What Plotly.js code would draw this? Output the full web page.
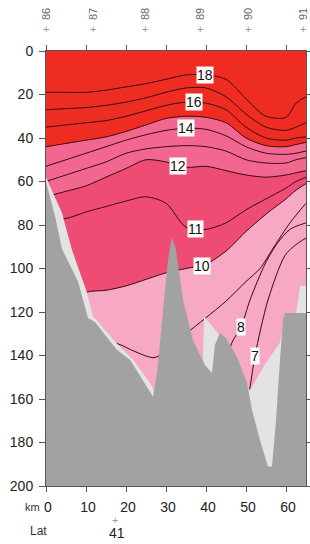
<!DOCTYPE html>
<html>
<head>
<meta charset="utf-8">
<script src="https://cdn.plot.ly/plotly-3.0.1.min.js"></script>
<style>html,body{margin:0;padding:0;background:#fff;}#chart{width:310px;height:544px;}</style>
</head>
<body>
<div id="chart"></div>
<script>
// ---- Data (distance in km, depth in m) ----
const isoKm = [0, 5, 10, 15, 20, 25, 30, 35, 40, 45, 50, 55, 60, 62.5, 65];
const iso18 = [19, 19, 19, 18, 16.5, 15, 13, 11, 11, 13, 22, 30, 30.5, 24, 21];
const iso17 = [27, 26.5, 26, 25, 23.5, 21.5, 19, 17, 17, 21, 29, 35, 36.5, 35, 33];
const iso16 = [35, 34, 33, 32, 30, 27.5, 25, 23.5, 24, 27, 35, 40, 41, 40, 39.5];
const iso15 = [44, 42.5, 41, 39.5, 37, 34, 31, 30, 30.5, 33, 40, 43.5, 44, 43, 42];
const iso14 = [53, 50, 47, 44, 41, 38.5, 36.5, 35.5, 36, 39, 44, 47, 47.5, 47, 46];
const iso13 = [60, 57, 54, 51, 47, 45, 44, 43.5, 44, 46, 50, 51.5, 51.5, 50, 49];
const iso12 = [67, 64.5, 62, 58, 54, 50, 51, 53.5, 53, 55, 57, 58, 57, 56, 55];
const iso11 = [77, 77, 74, 71.5, 69, 67, 70, 81, 82, 79, 73, 68, 63, 60, 58];
const iso10 = [125, 118, 111, 110, 108, 105, 102, 100, 98, 92, 83, 75, 68, 64, 61];
const iso9Km = [10, 15, 18.5, 22, 27, 30, 35, 39.75, 45, 50, 53.5, 57, 61, 65];
const iso9   = [133, 133, 135, 138, 141, 138, 130, 123, 115, 106, 100, 90, 79, 70];
const iso8Km = [40, 44, 46.5, 48.75, 51, 54.75, 58, 61, 65];
const iso8   = [165, 150, 134, 127, 114.5, 98, 88, 82, 79];
const iso7Km = [47, 49, 51, 52.25, 55.5, 59.75, 62.5, 65];
const iso7   = [185, 170, 154.5, 140, 114.5, 94, 89, 86];

// deepest sampled water (below it: no data)
const dataEdgeKm    = [0, 4, 6.5, 10.25, 11.75, 18, 21.75, 26, 27.25, 28, 38.5, 39.5, 43.5, 45, 47.75, 50.25, 51, 54.75, 58.5, 59.5, 62.5, 63.5, 65];
const dataEdgeDepth = [58, 74.5, 91.5, 111, 122, 135, 142, 152.6, 157, 200, 200, 122, 131, 134, 143, 154, 156, 144, 134, 124, 121, 108, 108];

// bottom topography
const topoKm    = [0, 2.25, 4, 8, 10.5, 12.25, 17.75, 21, 25.25, 26.75, 27.75, 29.25, 30.5, 31.5, 32.5, 34.25, 36.75, 39.75, 41.5, 42.25, 43.5, 45, 47.75, 50.25, 51.5, 53.5, 55.5, 56.5, 57.5, 58.5, 59.25, 59.75, 65];
const topoDepth = [60, 76, 91, 106, 122.8, 124.6, 137.5, 142, 154.5, 159, 148, 119, 96, 85.5, 91.5, 114.5, 133, 144.4, 148, 135, 129.7, 132, 140.7, 152.6, 165, 179, 191, 191, 170, 142, 123.7, 120.5, 120.5];

// contour labels
const labelText  = ['18', '16', '14', '12', '11', '10', '8', '7'];
const labelKm    = [39.75, 37, 35, 33, 37.25, 39, 48.75, 52.25];
const labelDepth = [11, 23.5, 35.4, 53, 82, 99, 127, 140];

// stations along the top, latitude along the bottom
const stationNames = ['86', '87', '88', '89', '90', '91'];
const stationKm = [0, 11.75, 24.75, 38.5, 50.5, 64.25];
const latText = ['41'];
const latKm = [17.25];

const xTicks = [0, 10, 20, 30, 40, 50, 60];
const yTicks = [0, 20, 40, 60, 80, 100, 120, 140, 160, 180, 200];

// ---- colours ----
const cRed = '#ef2c22', cPink = '#f2678f', cRose = '#ee4c73', cLight = '#f6a8c4';
const cNoData = '#e3e3e3', cTopo = '#a2a2a2', cLine = '#3a0a12';
const FONT = 'Liberation Sans, Arial, Helvetica, sans-serif';

const traces = [];
function band(y, color) {
  traces.push({x: isoKm, y: y, type: 'scatter', mode: 'lines', fill: 'tozeroy',
    fillcolor: color, line: {width: 0, shape: 'spline', smoothing: 0.8}, hoverinfo: 'skip'});
}
band(iso10, cRose);
band(iso12, cPink);
band(iso15, cRed);

function iso(xs, ys) {
  traces.push({x: xs, y: ys, type: 'scatter', mode: 'lines',
    line: {color: cLine, width: 1, shape: 'spline', smoothing: 0.8}, hoverinfo: 'skip'});
}
[iso18, iso17, iso16, iso15, iso14, iso13, iso12, iso11, iso10].forEach(a => iso(isoKm, a));
iso(iso9Km, iso9);
iso(iso8Km, iso8);
iso(iso7Km, iso7);

traces.push({x: dataEdgeKm.concat([65, 0]), y: dataEdgeDepth.concat([200, 200]),
  type: 'scatter', mode: 'lines', fill: 'toself', fillcolor: cNoData,
  line: {width: 0}, hoverinfo: 'skip'});
traces.push({x: topoKm.concat([65, 0]), y: topoDepth.concat([200, 200]),
  type: 'scatter', mode: 'lines', fill: 'toself', fillcolor: cTopo,
  line: {width: 0}, hoverinfo: 'skip'});

// pixel helpers for paper coords (plot area: x 46..306, y 51..486)
const px = v => (v - 46) / 260;
const py = v => (486 - v) / 435;

const annotations = [];
labelText.forEach((t, i) => annotations.push({x: labelKm[i], y: labelDepth[i], xref: 'x', yref: 'y',
  text: t, showarrow: false, bgcolor: '#ffffff', borderpad: 0,
  font: {family: FONT, size: 14, color: '#111'}}));
stationNames.forEach((t, i) => {
  annotations.push({x: stationKm[i], y: py(14), xref: 'x', yref: 'paper', text: t, showarrow: false,
    textangle: -90, xanchor: 'center', yanchor: 'middle', font: {family: FONT, size: 11, color: '#666'}});
  annotations.push({x: stationKm[i], y: py(29), xref: 'x', yref: 'paper', text: '+', showarrow: false,
    xanchor: 'center', yanchor: 'middle', font: {family: FONT, size: 11, color: '#999'}});
});
annotations.push({x: px(42), y: py(507), xref: 'paper', yref: 'paper', text: 'km', showarrow: false,
  xanchor: 'right', yanchor: 'middle', font: {family: FONT, size: 11, color: '#333'}});
annotations.push({x: px(38), y: py(531), xref: 'paper', yref: 'paper', text: 'Lat', showarrow: false,
  xanchor: 'center', yanchor: 'middle', font: {family: FONT, size: 12, color: '#333'}});
latText.forEach((t, i) => {
  annotations.push({x: latKm[i], y: py(520), xref: 'x', yref: 'paper', text: '+', showarrow: false,
    xanchor: 'center', yanchor: 'middle', font: {family: FONT, size: 11, color: '#999'}});
  annotations.push({x: latKm[i] + 0.5, y: py(533), xref: 'x', yref: 'paper', text: t, showarrow: false,
    xanchor: 'center', yanchor: 'middle', font: {family: FONT, size: 14, color: '#222'}});
});

const layout = {
  width: 310, height: 544,
  margin: {l: 46, r: 4, t: 51, b: 58},
  paper_bgcolor: '#ffffff', plot_bgcolor: cLight,
  showlegend: false,
  font: {family: FONT, size: 14, color: '#222'},
  xaxis: {range: [0, 65], tickvals: xTicks, ticks: 'outside', ticklen: 5, tickcolor: '#555',
    showline: true, linecolor: '#555', linewidth: 1, mirror: 'ticks', showgrid: false, zeroline: false,
    ticklabelstandoff: 3, ticklabelshift: 2, tickfont: {family: FONT, size: 14, color: '#222'}},
  yaxis: {range: [200, 0], tickvals: yTicks, ticks: 'outside', ticklen: 6, tickcolor: '#555',
    showline: true, linecolor: '#555', linewidth: 1, mirror: 'ticks', showgrid: false, zeroline: false,
    ticklabelstandoff: 3, tickfont: {family: FONT, size: 14, color: '#222'}},
  annotations: annotations
};

Plotly.newPlot('chart', traces, layout, {displayModeBar: false, staticPlot: true});
</script>
</body>
</html>
